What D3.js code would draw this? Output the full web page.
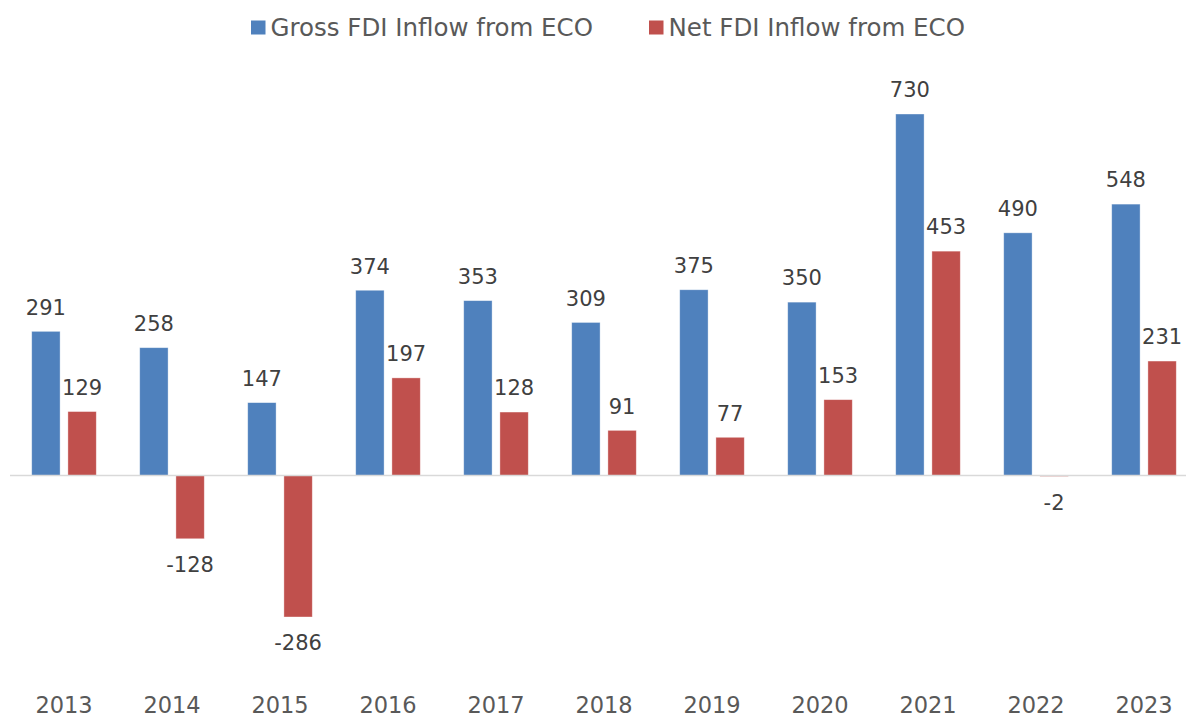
<!DOCTYPE html>
<html>
<head>
<meta charset="utf-8">
<script src="https://cdn.jsdelivr.net/npm/d3@7"></script>
<style>
  body { margin: 0; background: #fff; }
  text { font-family: "DejaVu Sans", Verdana, sans-serif; }
</style>
</head>
<body>
<div id="chart"></div>
<script>
const years = ["2013", "2014", "2015", "2016", "2017", "2018", "2019", "2020", "2021", "2022", "2023"];
const seriesNames = ["Gross FDI Inflow from ECO", "Net FDI Inflow from ECO"];
const grossValues = [291, 258, 147, 374, 353, 309, 375, 350, 730, 490, 548];
const netValues = [129, -128, -286, 197, 128, 91, 77, 153, 453, -2, 231];
const colors = ["#4f81bd", "#c0504d"];

const width = 1186, height = 717;

const svg = d3.select("#chart")
    .append("svg")
    .attr("width", width)
    .attr("height", height);

const x = d3.scaleBand()
    .domain(years)
    .range([10, 1198]);

const x1 = d3.scaleBand()
    .domain(seriesNames)
    .range([0, x.bandwidth()])
    .paddingInner(0.216)
    .paddingOuter(0.6);

const y = d3.scaleLinear()
    .domain([-286, 730])
    .range([617, 114]);

const rows = [];
years.forEach((yr, i) => {
    rows.push({ year: yr, series: seriesNames[0], value: grossValues[i], color: colors[0] });
    rows.push({ year: yr, series: seriesNames[1], value: netValues[i], color: colors[1] });
});

// bars
svg.append("g")
    .selectAll("rect")
    .data(rows)
    .join("rect")
    .attr("x", d => x(d.year) + x1(d.series))
    .attr("width", x1.bandwidth())
    .attr("y", d => y(Math.max(0, d.value)))
    .attr("height", d => Math.abs(y(d.value) - y(0)))
    .attr("fill", d => d.color)
    .attr("stroke", "#fff")
    .attr("stroke-opacity", 0.5)
    .attr("stroke-width", 0.75);

// zero line
svg.append("line")
    .attr("x1", 10)
    .attr("x2", 1186)
    .attr("y1", y(0))
    .attr("y2", y(0))
    .attr("stroke", "#d9d9d9")
    .attr("stroke-width", 1.5);

// value labels
svg.append("g")
    .selectAll("text")
    .data(rows)
    .join("text")
    .attr("x", d => x(d.year) + x1(d.series) + x1.bandwidth() / 2)
    .attr("y", d => d.value >= 0 ? y(d.value) - 24 : y(d.value) + 26)
    .attr("dy", "0.35em")
    .attr("text-anchor", "middle")
    .attr("font-size", 21)
    .attr("fill", "#404040")
    .text(d => d.value);

// x axis labels
const xAxis = d3.axisBottom(x).tickSize(0).tickPadding(0);
const gx = svg.append("g")
    .attr("transform", "translate(0,713)")
    .call(xAxis);
gx.select(".domain").remove();
gx.selectAll("text")
    .attr("dy", null)
    .attr("y", 0)
    .attr("font-size", 22.5)
    .attr("font-family", "'DejaVu Sans', Verdana, sans-serif")
    .attr("fill", "#595959");

// legend
const legendX = [251, 649];
const legend = svg.append("g")
    .selectAll("g")
    .data(seriesNames)
    .join("g")
    .attr("transform", (d, i) => `translate(${legendX[i]},36)`);

legend.append("rect")
    .attr("x", 0)
    .attr("y", -15.5)
    .attr("width", 14.5)
    .attr("height", 14)
    .attr("fill", (d, i) => colors[i]);

legend.append("text")
    .attr("x", 19.5)
    .attr("font-size", 24.5)
    .attr("fill", "#595959")
    .text(d => d);
</script>
</body>
</html>
